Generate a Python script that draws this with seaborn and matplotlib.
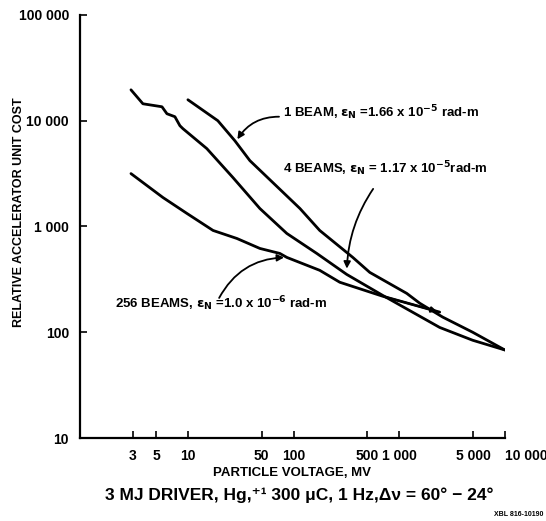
import matplotlib
matplotlib.use("Agg")
import matplotlib.pyplot as plt
import seaborn as sns
import pandas as pd

# particle voltage (MV) and relative unit cost
one_beam_mv = [10, 19.2, 27.8, 38.6, 115, 177, 364, 527, 1180, 1567, 2585, 4966, 10000]
one_beam_cost = [15780, 10000, 6475, 4195, 1479, 917, 510, 368, 233, 188, 139, 100, 68]

four_beam_mv = [2.89, 3.75, 5.68, 6.33, 7.53, 8.40, 8.97, 15.1, 26.7, 48.0, 86.4, 166, 319,
                699, 2420, 4966, 10000]
four_beam_cost = [19590, 14460, 13550, 11640, 10910, 8970, 8410, 5450, 2900, 1479, 859, 556,
                  352, 223, 111, 84, 68]

beam256_mv = [2.89, 5.80, 9.79, 17.3, 29.1, 48.0, 74.2, 86.4, 177, 274, 699, 2420]
beam256_cost = [3162, 1879, 1328, 917, 770, 620, 556, 510, 385, 297, 219, 155]

x_ticks = [3, 5, 10, 50, 100, 500, 1000, 5000, 10000]
x_tick_labels = ["3", "5", "10", "50", "100", "500", "1 000", "5 000", "10 000"]
y_ticks = [10, 100, 1000, 10000, 100000]
y_tick_labels = ["10", "100", "1 000", "10 000", "100 000"]

sns.set_theme(style="ticks")
plt.rcParams['font.family'] = ['Liberation Sans', 'DejaVu Sans']
plt.rcParams['font.weight'] = 'bold'
plt.rcParams['mathtext.fontset'] = 'dejavusans'
for key in ['text.color', 'axes.labelcolor', 'xtick.color', 'ytick.color']:
    plt.rcParams[key] = 'black'

curves = pd.concat([
    pd.DataFrame({'mv': one_beam_mv, 'cost': one_beam_cost, 'case': '1 beam'}),
    pd.DataFrame({'mv': four_beam_mv, 'cost': four_beam_cost, 'case': '4 beams'}),
    pd.DataFrame({'mv': beam256_mv, 'cost': beam256_cost, 'case': '256 beams'}),
])

fig = plt.figure(figsize=(5.46, 5.21), dpi=100)
ax = fig.add_axes([0.1465, 0.1593, 0.778, 0.812])

sns.lineplot(data=curves, x='mv', y='cost', hue='case', units='case', estimator=None,
             sort=False, palette=['black'] * 3, linewidth=2.0, legend=False, ax=ax)

ax.set_xscale('log')
ax.set_yscale('log')
ax.set_xlim(0.951, 10000)
ax.set_ylim(10, 100000)
ax.minorticks_off()
ax.set_xticks(x_ticks)
ax.set_xticklabels(x_tick_labels, fontsize=10, fontweight='bold')
ax.set_yticks(y_ticks)
ax.set_yticklabels(y_tick_labels, fontsize=10, fontweight='bold')
ax.get_xticklabels()[-1].set_horizontalalignment('left')
ax.tick_params(direction='in', length=5, width=1.2, colors='black', pad=8)
sns.despine(ax=ax)
for side in ['left', 'bottom']:
    ax.spines[side].set_linewidth(1.6)
    ax.spines[side].set_color('black')

ax.set_xlabel('PARTICLE VOLTAGE, MV', fontsize=9.5, fontweight='bold', labelpad=3)
ax.set_ylabel('RELATIVE ACCELERATOR UNIT COST', fontsize=9, fontweight='bold')
ax.yaxis.set_label_coords(-0.129, 0.534)

# curve labels with arrows
arrow = dict(arrowstyle='-|>', color='black', lw=1.3, mutation_scale=10)
ax.text(79.2, 10790, r"1 BEAM, $\mathbf{\epsilon_N}$ =1.66 x 10$^{\mathbf{-5}}$ rad-m",
        fontsize=9.5, fontweight='bold', va='baseline', ha='left')
ax.annotate('', xy=(28.5, 6340), xytext=(77.4, 10900),
            arrowprops=dict(arrow, connectionstyle='arc3,rad=0.3'))

ax.text(79.2, 3200, r"4 BEAMS, $\mathbf{\epsilon_N}$ = 1.17 x 10$^{\mathbf{-5}}$rad-m",
        fontsize=9.5, fontweight='bold', va='baseline', ha='left')
ax.annotate('', xy=(319, 376), xytext=(587, 2383),
            arrowprops=dict(arrow, connectionstyle='arc3,rad=0.15'))

ax.text(2.04, 168, r"256 BEAMS, $\mathbf{\epsilon_N}$ =1.0 x 10$^{\mathbf{-6}}$ rad-m",
        fontsize=9.5, fontweight='bold', va='baseline', ha='left')
ax.annotate('', xy=(86.4, 510), xytext=(19.2, 200),
            arrowprops=dict(arrow, connectionstyle='arc3,rad=-0.3'))

# small arrowhead where the 256-beam curve stops
ax.annotate('', xy=(beam256_mv[-1], beam256_cost[-1]), xytext=(beam256_mv[-2], beam256_cost[-2]),
            arrowprops=dict(arrowstyle='-|>', color='black', lw=1.5, mutation_scale=8))

fig.text(0.548, 0.05, "3 MJ DRIVER, Hg,\u207a\u00b9 300 \u03bcC, 1 Hz,\u0394\u03bd = 60\u00b0 \u2212 24\u00b0",
         ha='center', va='center', fontsize=12.5, fontweight='bold')
fig.text(0.995, 0.012, "XBL 816-10190", ha='right', va='center', fontsize=5)

fig.savefig('out.png', dpi=100)
